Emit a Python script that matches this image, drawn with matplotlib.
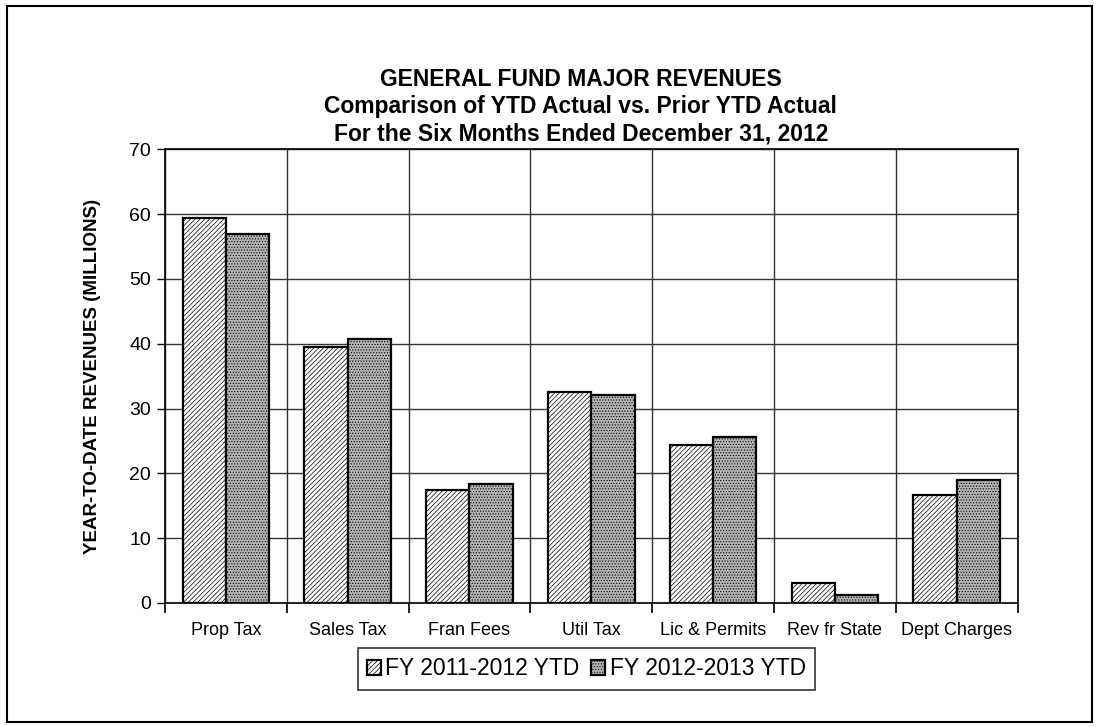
import numpy as np
import matplotlib.pyplot as plt
from matplotlib.patches import Rectangle

categories = ["Prop Tax", "Sales Tax", "Fran Fees", "Util Tax",
              "Lic & Permits", "Rev fr State", "Dept Charges"]
fy_2011_2012 = [59.4, 39.5, 17.5, 32.6, 24.3, 3.1, 16.6]
fy_2012_2013 = [57.0, 40.7, 18.3, 32.1, 25.6, 1.3, 18.9]
series_labels = ["FY 2011-2012 YTD", "FY 2012-2013 YTD"]
title_lines = ["GENERAL FUND MAJOR REVENUES",
               "Comparison of YTD Actual vs. Prior YTD Actual",
               "For the Six Months Ended December 31, 2012"]

plt.rcParams["font.family"] = ["Liberation Sans", "DejaVu Sans"]
plt.rcParams["hatch.linewidth"] = 0.5

fig = plt.figure(figsize=(10.96, 7.27), dpi=100)
ax = fig.add_axes([0.1505, 0.1706, 0.778, 0.624])

x = np.arange(len(categories))
w = 0.355
ax.bar(x - w / 2, fy_2011_2012, w, facecolor="white", edgecolor="black",
       hatch="///////", linewidth=1.6, label=series_labels[0], zorder=3)
ax.bar(x + w / 2, fy_2012_2013, w, facecolor="#b4b4b4", edgecolor="black",
       hatch="......", linewidth=1.6, label=series_labels[1], zorder=3)

ax.set_xlim(-0.5, len(categories) - 0.5)
ax.set_ylim(0, 70)
ax.set_yticks(range(0, 71, 10))
ax.set_xticks(x)
ax.set_xticklabels(categories, fontsize=13)
ax.set_xticks(np.arange(-0.5, len(categories), 1), minor=True)
ax.tick_params(axis="x", which="major", length=0, pad=14)
ax.tick_params(axis="x", which="minor", length=7, width=1.2, direction="out")
ax.tick_params(axis="y", labelsize=14, length=6, width=1, direction="out",
               pad=4)
ax.grid(True, axis="y", color="#333333", linewidth=1, zorder=0)
ax.grid(True, axis="x", which="minor", color="#333333", linewidth=1, zorder=0)
for s in ax.spines.values():
    s.set_linewidth(1.2)

ax.set_ylabel("YEAR-TO-DATE REVENUES (MILLIONS)", fontsize=13.5,
              fontweight="bold", labelpad=20)

for i, line in enumerate(title_lines):
    fig.text(0.53, 0.891 - i * 0.038, line, ha="center", va="center",
             fontsize=16.5, fontweight="bold")

leg = fig.legend(loc="center", bbox_to_anchor=(0.535, 0.08), ncol=2,
                 fontsize=16.5, frameon=True, fancybox=False, edgecolor="black",
                 handlelength=0.6, handleheight=0.6, handletextpad=0.2,
                 columnspacing=0.5, borderpad=0.4)
leg.get_frame().set_linewidth(1.2)

fig.patches.append(Rectangle((0.006, 0.007), 0.99, 0.985,
                             transform=fig.transFigure, fill=False,
                             edgecolor="black", linewidth=1.5))

fig.savefig("out.png", dpi=100)
